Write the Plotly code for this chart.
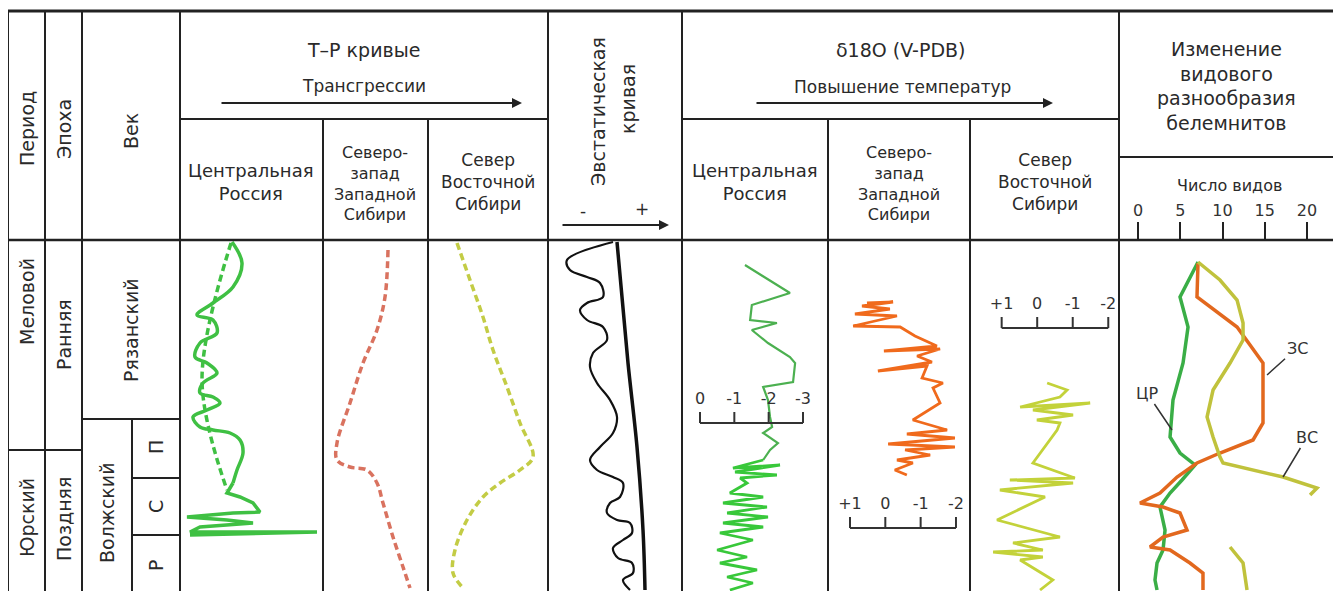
import plotly.graph_objects as go

# ---------------- DATA ----------------
# shared vertical scale: relative stratigraphic depth (0 = top of section, 351 = bottom)
# T-R curves, Central Russia (relative transgression index, 0..143)
tp_cr_upper_val = [52, 62, 53, 33, 17, 33, 37, 20, 15, 27, 37, 23, 20, 33, 40, 27, 13, 20, 33, 50, 60, 63, 57, 53]
tp_cr_upper_dep = [2, 23, 47, 63, 75, 80, 93, 103, 117, 123, 133, 143, 153, 157, 163, 170, 177, 187, 190, 193, 200, 213, 230, 243]
tp_cr_lower_val = [53, 47, 60, 73, 80, 53, 7, 47, 73, 20, 10, 137, 10]
tp_cr_lower_dep = [243, 253, 257, 263, 272, 273, 277, 280, 283, 287, 292, 292, 295]
tp_cr_dash_val = [51, 22, 47]
tp_cr_dash_dep = [3, 140, 250]
# T-R curve, NW of Western Siberia (0..105)
tp_nw_val = [65, 62, 54, 40, 27, 14, 14, 27, 44, 54, 60, 70, 80, 87]
tp_nw_dep = [10, 57, 90, 123, 163, 203, 220, 227, 230, 243, 263, 297, 327, 348]
# T-R curve, North of Eastern Siberia (0..120)
tp_ne_val = [29, 42, 55, 65, 79, 92, 105, 92, 72, 55, 39, 27, 25, 35]
tp_ne_dep = [3, 40, 77, 110, 147, 183, 217, 230, 243, 257, 280, 310, 333, 348]
# Eustatic curve (relative sea level, 0..134)
eus_wave_val = [65, 19, 22, 39, 52, 55, 39, 32, 39, 55, 59, 45, 42, 49, 62, 69, 65, 52, 42, 49, 65, 75, 72, 62,
                59, 69, 82, 84, 75, 65, 70, 84, 85, 75, 82]
eus_wave_dep = [2, 20, 30, 37, 43, 57, 63, 70, 80, 87, 100, 113, 127, 143, 160, 177, 193, 207, 220, 230, 237, 243,
                257, 263, 273, 280, 283, 293, 300, 308, 318, 323, 333, 340, 350]
eus_trend_val = [69, 74, 80, 89, 95, 97]
eus_trend_dep = [2, 57, 123, 207, 290, 350]
# d18O (V-PDB), permil
d18_cr_upper_val = [-1.31, -2.62, -1.51, -1.46, -2.24, -1.51, -1.98, -2.62, -2.77, -2.71, -1.84, -1.98, -2.04,
                    -2.10, -1.84, -2.27, -2.04, -1.84]
d18_cr_upper_dep = [25, 53, 65, 80, 83, 90, 103, 117, 123, 142, 147, 160, 177, 187, 193, 203, 210, 220]
d18_cr_lower_val = [-1.84, -0.96, -2.33, -1.02, -2.24, -1.17, -1.37, -0.87, -1.84, -0.67, -1.95, -0.79, -1.98,
                    -0.67, -1.84, -0.58, -1.54, -0.50, -1.37, -0.58, -1.66, -0.79, -1.54, -0.87]
d18_cr_lower_dep = [220, 228, 225, 232, 235, 238, 243, 253, 257, 263, 267, 273, 277, 283, 287, 293, 300, 310,
                    317, 323, 330, 337, 343, 350]
d18_nw_val = [0.52, -0.22, 0.66, -0.13, 0.86, -0.33, 0.91, -0.42, -0.84, -1.46, 0.04, -1.55, -0.90, -1.32, 0.21,
              -1.18, -1.04, -1.63, -1.35, -1.55, -0.78, -1.75, -0.61, -1.97, -0.08, -1.97, -0.56, -1.27, -0.33,
              -0.78, -0.27, -0.61]
d18_nw_dep = [63, 62, 66, 69, 74, 76, 86, 87, 96, 106, 111, 109, 116, 122, 131, 126, 138, 143, 148, 163, 180, 190,
              194, 198, 204, 207, 210, 215, 220, 223, 230, 235]
d18_ne_val = [-0.28, -0.84, -0.64, 0.48, -1.49, 0.12, -1.01, 0.01, -0.64, -0.56, 0.12, -1.06, 0.77, -1.01, 1.05,
              -0.22, 1.13, -0.64, 0.68, -0.16, 1.24, -0.16, 0.48, -0.44, -0.08]
d18_ne_dep = [143, 150, 157, 167, 163, 170, 175, 180, 183, 190, 223, 238, 240, 243, 250, 257, 280, 297, 303, 310,
              312, 317, 320, 340, 350]
# scale-bar ticks of the d18O columns
d18_cr_ticks = [0, -1, -2, -3]
d18_cr_tick_labels = ["0", "-1", "-2", "-3"]
d18_nw_ticks = [1, 0, -1, -2]
d18_nw_tick_labels = ["+1", "0", "-1", "-2"]
d18_ne_ticks = [1, 0, -1, -2]
d18_ne_tick_labels = ["+1", "0", "-1", "-2"]
# Belemnite species diversity (number of species)
bel_ticks = [0, 5, 10, 15, 20]
bel_cr_val = [7.10, 4.97, 5.92, 5.33, 4.14, 3.79, 4.97, 6.75, 5.21, 3.79, 2.60, 3.20, 2.96, 2.25, 2.01, 2.25]
bel_cr_dep = [22, 57, 87, 123, 160, 197, 213, 225, 240, 253, 267, 290, 310, 323, 340, 350]
bel_ws_val = [7.10, 6.98, 11.72, 14.79, 14.79, 14.79, 13.61, 9.70, 6.98, 4.62, 2.60, 0.24, 2.96, 4.97, 5.80, 2.96,
              1.42, 3.79, 6.15, 7.69, 7.69]
bel_ws_dep = [23, 57, 87, 123, 137, 183, 200, 213, 223, 237, 253, 263, 267, 273, 290, 297, 307, 310, 323, 333, 350]
bel_es_val = [7.10, 9.70, 11.72, 12.43, 12.43, 10.89, 8.88, 8.17, 8.88, 9.70, 10.06, 17.16, 21.18, 20.36]
bel_es_dep = [22, 40, 60, 83, 100, 123, 150, 177, 197, 217, 223, 237, 248, 255]
bel_es2_val = [10.89, 12.43, 12.90]
bel_es2_dep = [307, 323, 350]

# ---------------- LAYOUT GEOMETRY ----------------
OX, OY = 8, 8            # page offset of the plot div (body margin)
W, H = 1333, 583
Y_DATA = 240
FONT = "DejaVu Sans"
INK = "#222222"
TXT = "#2a2a2a"


def px(x):
    return (x - OX) / W


def py(y):
    return 1 - (y - OY) / H


fig = go.Figure()


def line_trace(x, y, axis, color, width, dash=None, shape="linear"):
    fig.add_trace(go.Scatter(x=x, y=y, xaxis=axis, yaxis="y", mode="lines",
                             line=dict(color=color, width=width, dash=dash, shape=shape),
                             hoverinfo="skip", showlegend=False))


# T-R curves
line_trace(tp_cr_upper_val, tp_cr_upper_dep, "x", "#3fc043", 3.5, shape="spline")
line_trace(tp_cr_lower_val, tp_cr_lower_dep, "x", "#3fc043", 3.5)
line_trace(tp_cr_dash_val, tp_cr_dash_dep, "x", "#3fc043", 3.5, dash="7px,4px", shape="spline")
line_trace(tp_nw_val, tp_nw_dep, "x2", "#d9725f", 3.5, dash="7px,4px", shape="spline")
line_trace(tp_ne_val, tp_ne_dep, "x3", "#c3cc45", 3.5, dash="7px,4px", shape="spline")
# eustatic
line_trace(eus_wave_val, eus_wave_dep, "x4", "#111111", 2.2, shape="spline")
line_trace(eus_trend_val, eus_trend_dep, "x4", "#111111", 3.5, shape="spline")
# d18O
line_trace(d18_cr_upper_val, d18_cr_upper_dep, "x5", "#4cb050", 2.2)
line_trace(d18_cr_lower_val, d18_cr_lower_dep, "x5", "#38c83a", 2.8)
line_trace(d18_nw_val, d18_nw_dep, "x6", "#f06a1c", 2.8)
line_trace(d18_ne_val, d18_ne_dep, "x7", "#c3d23a", 2.8)
# belemnites
line_trace(bel_cr_val, bel_cr_dep, "x8", "#3aae46", 3.5)
line_trace(bel_ws_val, bel_ws_dep, "x8", "#e2681e", 3.5)
line_trace(bel_es_val, bel_es_dep, "x8", "#c0c23c", 3.5)
line_trace(bel_es2_val, bel_es2_dep, "x8", "#c0c23c", 3.5)


def scale_bar(ticks, labels, axis, bar_dep):
    xs, ys = [ticks[0], ticks[-1], None], [bar_dep, bar_dep, None]
    for t in ticks:
        xs += [t, t, None]
        ys += [bar_dep, bar_dep - 11, None]
    fig.add_trace(go.Scatter(x=xs, y=ys, xaxis=axis, yaxis="y", mode="lines",
                             line=dict(color="#333333", width=2), hoverinfo="skip", showlegend=False))
    fig.add_trace(go.Scatter(x=ticks, y=[bar_dep - 23] * len(ticks), xaxis=axis, yaxis="y", mode="text",
                             text=labels, textfont=dict(family=FONT, size=16, color="#333333"),
                             hoverinfo="skip", showlegend=False, cliponaxis=False))


scale_bar(d18_cr_ticks, d18_cr_tick_labels, "x5", 183)
scale_bar(d18_nw_ticks, d18_nw_tick_labels, "x6", 288)
scale_bar(d18_ne_ticks, d18_ne_tick_labels, "x7", 88)

# ---------------- axes ----------------
ydom = [0, py(Y_DATA)]
hidden = dict(visible=False, showgrid=False, zeroline=False, fixedrange=True)
cols = {
    "xaxis": (180, 323, [0, 143]),
    "xaxis2": (323, 428, [0, 105]),
    "xaxis3": (428, 548, [0, 120]),
    "xaxis4": (548, 682, [0, 134]),
    "xaxis5": (682, 828, [0.524, -3.728]),
    "xaxis6": (828, 970, [1.622, -2.397]),
    "xaxis7": (970, 1119, [1.891, -2.302]),
}
layout_axes = {}
for name, (a, b, rng) in cols.items():
    layout_axes[name] = dict(hidden, domain=[px(a), px(b)], range=rng, anchor="y")
layout_axes["xaxis8"] = dict(domain=[px(1119), 1.0], range=[-2.249, 24.02], anchor="y", side="top",
                             ticks="outside", ticklen=17, tickwidth=2, tickcolor=INK, tickvals=bel_ticks,
                             tickfont=dict(family=FONT, size=16, color="#333333"), showgrid=False,
                             zeroline=False, showline=False, fixedrange=True)
layout_axes["yaxis"] = dict(hidden, domain=ydom, range=[351, 0], anchor="x")

# ---------------- table lines ----------------
shapes = []


def hline(y, x0, x1, w=2, color=INK):
    shapes.append(dict(type="line", xref="paper", yref="paper", x0=px(x0), x1=px(x1), y0=py(y), y1=py(y),
                       line=dict(color=color, width=w)))


def vline(x, y0, y1, w=2, color=INK):
    shapes.append(dict(type="line", xref="paper", yref="paper", x0=px(x), x1=px(x), y0=py(y0), y1=py(y1),
                       line=dict(color=color, width=w)))


hline(11, 7, 1334, 3)
hline(240, 7, 1334, 2.5)
hline(119, 180, 548)
hline(119, 682, 1119)
hline(157, 1119, 1334)
for xv in [8, 45, 82, 180, 548, 682, 1119]:
    vline(xv, 11, 591)
for xv in [323, 428, 828, 970]:
    vline(xv, 119, 591)
vline(1334, 11, 591, 1, "#d5d5d5")
hline(450, 8, 82)
hline(419, 82, 180)
vline(132, 419, 591)
hline(478, 132, 180)
hline(535, 132, 180)

# ---------------- texts ----------------
ann = []


def text(x, y, s, size=19, angle=0, color=TXT, align="center"):
    ann.append(dict(x=px(x), y=py(y), xref="paper", yref="paper", text=s, showarrow=False, textangle=angle,
                    xanchor="center", yanchor="middle", align=align,
                    font=dict(family=FONT, size=size, color=color)))


def arrow(x0, x1, y):
    ann.append(dict(x=px(x1), y=py(y), xref="paper", yref="paper", text="", showarrow=True,
                    ax=-(x1 - x0), ay=0, arrowhead=2, arrowsize=1, arrowwidth=2, arrowcolor=INK))


text(27, 129, "Период", angle=-90)
text(64, 129, "Эпоха", angle=-90)
text(131, 131, "Век", angle=-90)
text(364, 50, "Т–Р кривые", size=19)
text(364, 86, "Трансгрессии", size=17)
arrow(220, 522, 103)
text(251, 182, "Центральная<br>Россия", size=18)
text(375, 183, "Северо-<br>запад<br>Западной<br>Сибири", size=16)
text(488, 182, "Север<br>Восточной<br>Сибири", size=17)
text(598, 112, "Эвстатическая", size=19, angle=-90)
text(628, 99, "кривая", size=19, angle=-90)
text(583, 211, "-", size=17)
text(642, 209, "+", size=17)
arrow(561, 669, 225)
text(900, 50, "δ18O (V-PDB)", size=19)
text(902, 87, "Повышение температур", size=17)
arrow(755, 1053, 103)
text(755, 182, "Центральная<br>Россия", size=18)
text(899, 183, "Северо-<br>запад<br>Западной<br>Сибири", size=16)
text(1045, 182, "Север<br>Восточной<br>Сибири", size=17)
text(1226, 86, "Изменение<br>видового<br>разнообразия<br>белемнитов", size=19)
text(1229, 185, "Число видов", size=16)
text(27, 302, "Меловой", angle=-90)
text(27, 518, "Юрский", angle=-90)
text(64, 335, "Ранняя", angle=-90)
text(64, 519, "Поздняя", angle=-90)
text(131, 330, "Рязанский", angle=-90)
text(107, 513, "Волжский", angle=-90)
text(156, 447, "П", angle=-90)
text(156, 507, "С", angle=-90)
text(156, 566, "Р", angle=-90)

# curve labels in the belemnite column
for lab, xv, dv, axp, ayp in [("ЦР", 4.02, 190, -25, -37), ("ЗС", 15.27, 135, 30, -27),
                              ("ВС", 17.16, 237, 24, -40)]:
    ann.append(dict(x=xv, y=dv, xref="x8", yref="y", text=lab, showarrow=True, ax=axp, ay=ayp,
                    arrowhead=0, arrowwidth=1.5, arrowcolor="#333333",
                    font=dict(family=FONT, size=16, color="#333333")))

fig.update_layout(width=W, height=H, margin=dict(l=0, r=0, t=0, b=0, pad=0),
                  paper_bgcolor="white", plot_bgcolor="rgba(0,0,0,0)", showlegend=False,
                  shapes=shapes, annotations=ann, **layout_axes)

fig.write_html("out.html")
